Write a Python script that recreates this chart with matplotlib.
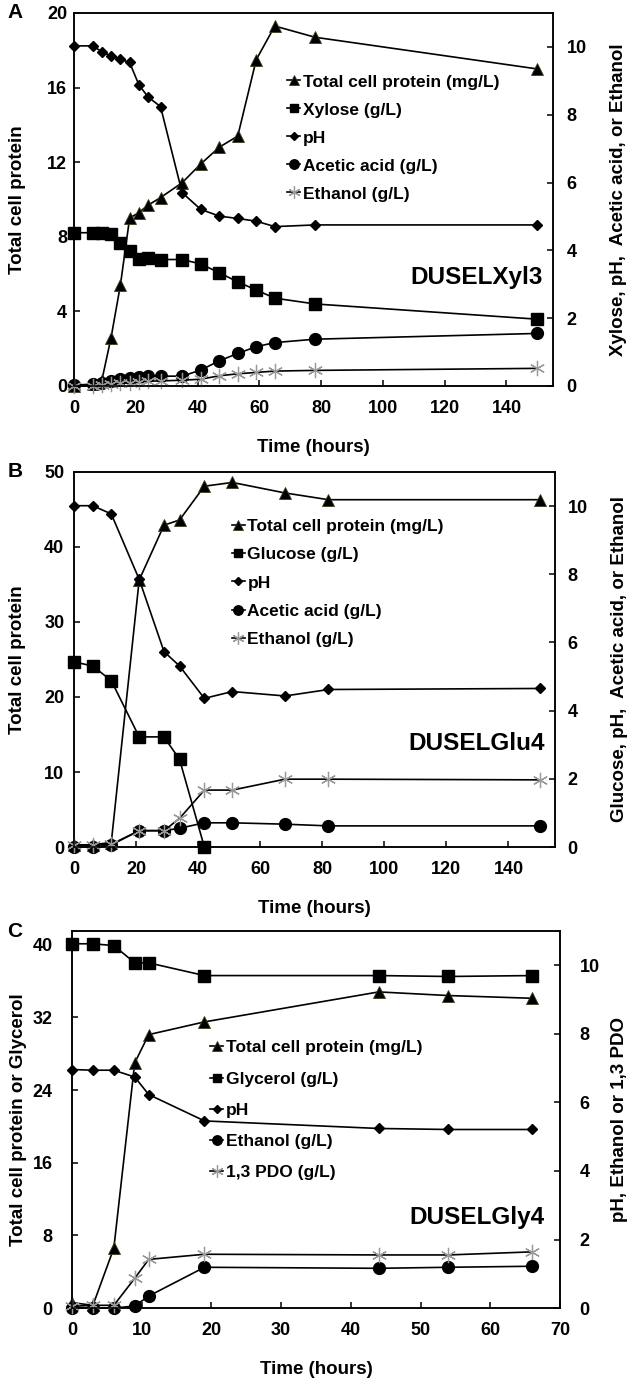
import matplotlib as mpl
mpl.use('Agg')
import matplotlib.pyplot as plt

mpl.rcParams['font.family'] = ['Liberation Sans', 'DejaVu Sans']
mpl.rcParams['font.weight'] = 'bold'
mpl.rcParams['axes.linewidth'] = 1.1

# ---- panel A : DUSELXyl3 ----
time_a = [0, 6, 9, 12, 15, 18, 21, 24, 28, 35, 41, 47, 53, 59, 65, 78, 150]
protein_a = [0.0, 0.1, 0.3, 2.6, 5.4, 9.0, 9.3, 9.7, 10.1, 10.9, 11.9, 12.8, 13.4, 17.5, 19.3, 18.7, 17.0]
xylose_a = [4.52, 4.52, 4.52, 4.47, 4.21, 3.99, 3.74, 3.76, 3.73, 3.73, 3.60, 3.34, 3.07, 2.83, 2.59, 2.42, 1.97]
ph_a = [10.03, 10.03, 9.86, 9.73, 9.64, 9.54, 8.88, 8.52, 8.24, 5.70, 5.21, 5.01, 4.94, 4.86, 4.70, 4.75, 4.75]
acetic_a = [0.03, 0.05, 0.1, 0.15, 0.2, 0.25, 0.27, 0.29, 0.29, 0.29, 0.47, 0.74, 0.96, 1.16, 1.28, 1.38, 1.55]
ethanol_a = [0.0, 0.0, 0.02, 0.05, 0.08, 0.1, 0.12, 0.14, 0.15, 0.17, 0.2, 0.3, 0.36, 0.4, 0.44, 0.46, 0.52]

# ---- panel B : DUSELGlu4 ----
time_b = [0, 6, 12, 21, 29, 34, 42, 51, 68, 82, 150]
protein_b = [0.3, 0.3, 0.6, 35.6, 42.9, 43.6, 48.1, 48.6, 47.2, 46.3, 46.3]
time_glc_b = [0, 6, 12, 21, 29, 34, 42]
glucose_b = [5.43, 5.31, 4.88, 3.23, 3.23, 2.57, 0.0]
ph_b = [10.01, 10.01, 9.77, 7.85, 5.73, 5.31, 4.36, 4.56, 4.43, 4.62, 4.65]
acetic_b = [0.0, 0.0, 0.06, 0.48, 0.48, 0.55, 0.71, 0.71, 0.67, 0.62, 0.62]
ethanol_b = [0.05, 0.05, 0.08, 0.48, 0.48, 0.84, 1.67, 1.67, 1.99, 1.99, 1.97]

# ---- panel C : DUSELGly4 ----
time_c = [0, 3, 6, 9, 11, 19, 44, 54, 66]
protein_c = [0.6, 0.3, 6.6, 27.0, 30.1, 31.5, 34.8, 34.4, 34.1]
glycerol_c = [40.1, 40.1, 39.9, 38.0, 38.0, 36.6, 36.6, 36.5, 36.6]
ph_c = [6.96, 6.94, 6.94, 6.74, 6.23, 5.46, 5.24, 5.21, 5.21]
ethanol_c = [0.0, 0.0, 0.0, 0.06, 0.35, 1.19, 1.16, 1.19, 1.22]
pdo_c = [0.05, 0.08, 0.08, 0.87, 1.42, 1.57, 1.55, 1.55, 1.64]

LW = 1.2
STYLE = {
    'tri': dict(marker='^', ms=8.5, mfc='black', mec='#3d3d1c', mew=0.6),
    'sq': dict(marker='s', ms=8, mfc='black', mec='black'),
    'dia': dict(marker='D', ms=5.5, mfc='black', mec='black'),
    'circ': dict(marker='o', ms=8.5, mfc='black', mec='black'),
    'star': dict(marker=(6, 2, 0), ms=11, mfc='none', mec='#999999', mew=0.9),
}


def series(ax, x, y, kind, label):
    ax.plot(x, y, color='black', lw=LW, label=label, clip_on=False, **STYLE[kind])


def setup_ticks(ax, ax2, lpad, rpad):
    ax.tick_params(axis='x', direction='in', length=4, width=1.1, labelsize=13, pad=10, top=False)
    ax.tick_params(axis='y', direction='in', length=4, width=1.1, labelsize=13, pad=lpad)
    ax2.tick_params(axis='y', direction='in', length=4, width=1.1, labelsize=13, pad=rpad)


def finish(ax, ax2, legend_xy, spacing, strain, strain_xy, letter):
    handles = sorted(ax.get_lines() + ax2.get_lines(), key=lambda h: h.get_gid())
    ax2.legend(handles=handles, labels=[h.get_label() for h in handles], loc='center left',
               bbox_to_anchor=legend_xy, frameon=False, fontsize=12.5, handlelength=0.75,
               handletextpad=0.15, labelspacing=spacing, borderpad=0, borderaxespad=0,
               markerscale=0.8)
    ax2.text(strain_xy[0], strain_xy[1], strain, transform=ax2.transAxes, ha='right',
             va='center', fontsize=17.5, fontweight='bold')
    ax.set_xlabel('Time (hours)', fontsize=13.5, fontweight='bold', labelpad=16)
    fig.text(0.024, ax.get_position().y1, letter, fontsize=15, fontweight='bold',
             ha='center', va='center')


def number(ax, ax2):
    for i, h in enumerate(ax.get_lines() + ax2.get_lines()):
        h.set_gid(i)


fig = plt.figure(figsize=(6.3, 13.82), dpi=100)

# panel A
ax = fig.add_axes([0.1175, 0.7207, 0.760, 0.2699])
ax2 = ax.twinx()
series(ax, time_a, protein_a, 'tri', 'Total cell protein (mg/L)')
series(ax2, time_a, xylose_a, 'sq', 'Xylose (g/L)')
series(ax2, time_a, ph_a, 'dia', 'pH')
series(ax2, time_a, acetic_a, 'circ', 'Acetic acid (g/L)')
series(ax2, time_a, ethanol_a, 'star', 'Ethanol (g/L)')
number(ax, ax2)
ax.set_xlim(0, 155)
ax.set_ylim(0, 20)
ax2.set_ylim(0, 11)
ax.set_xticks(range(0, 141, 20))
ax.set_yticks(range(0, 21, 4))
ax2.set_yticks(range(0, 11, 2))
ax.set_ylabel('Total cell protein', fontsize=13.5, fontweight='bold', labelpad=15)
ax2.set_ylabel('Xylose, pH,  Acetic acid, or Ethanol', fontsize=13.5, fontweight='bold', labelpad=17)
setup_ticks(ax, ax2, 5, 10)
finish(ax, ax2, (0.445, 0.665), 0.74, 'DUSELXyl3', (0.979, 0.292), 'A')

# panel B
ax = fig.add_axes([0.1175, 0.3871, 0.7635, 0.2714])
ax2 = ax.twinx()
series(ax, time_b, protein_b, 'tri', 'Total cell protein (mg/L)')
series(ax2, time_glc_b, glucose_b, 'sq', 'Glucose (g/L)')
series(ax2, time_b, ph_b, 'dia', 'pH')
series(ax2, time_b, acetic_b, 'circ', 'Acetic acid (g/L)')
series(ax2, time_b, ethanol_b, 'star', 'Ethanol (g/L)')
number(ax, ax2)
ax.set_xlim(0, 155)
ax.set_ylim(0, 50)
ax2.set_ylim(0, 11)
ax.set_xticks(range(0, 141, 20))
ax.set_yticks(range(0, 51, 10))
ax2.set_yticks(range(0, 11, 2))
ax.set_ylabel('Total cell protein', fontsize=13.5, fontweight='bold', labelpad=13)
ax2.set_ylabel('Glucose, pH,  Acetic acid, or Ethanol', fontsize=13.5, fontweight='bold', labelpad=17)
setup_ticks(ax, ax2, 7, 9)
finish(ax, ax2, (0.328, 0.704), 0.75, 'DUSELGlu4', (0.979, 0.275), 'B')

# panel C
ax = fig.add_axes([0.1143, 0.0535, 0.7746, 0.2728])
ax2 = ax.twinx()
series(ax, time_c, protein_c, 'tri', 'Total cell protein (mg/L)')
series(ax, time_c, glycerol_c, 'sq', 'Glycerol (g/L)')
series(ax2, time_c, ph_c, 'dia', 'pH')
series(ax2, time_c, ethanol_c, 'circ', 'Ethanol (g/L)')
series(ax2, time_c, pdo_c, 'star', '1,3 PDO (g/L)')
number(ax, ax2)
ax.set_xlim(0, 70)
ax.set_ylim(0, 41.5)
ax2.set_ylim(0, 11)
ax.set_xticks(range(0, 71, 10))
ax.set_yticks(range(0, 41, 8))
ax2.set_yticks(range(0, 11, 2))
ax.set_ylabel('Total cell protein or Glycerol', fontsize=13.5, fontweight='bold', labelpad=4)
ax2.set_ylabel('pH, Ethanol or 1,3 PDO', fontsize=13.5, fontweight='bold', labelpad=8)
setup_ticks(ax, ax2, 14, 14)
finish(ax, ax2, (0.283, 0.525), 0.92, 'DUSELGly4', (0.969, 0.239), 'C')

fig.savefig('out.png', dpi=100)
